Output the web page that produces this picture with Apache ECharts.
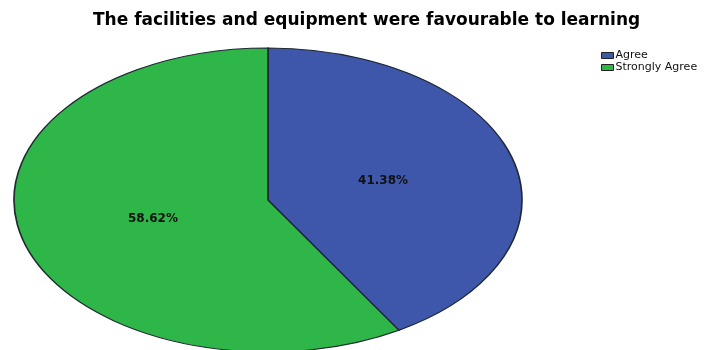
<!DOCTYPE html>
<html>
<head>
<meta charset="utf-8">
<script src="https://cdn.jsdelivr.net/npm/echarts@6/dist/echarts.min.js"></script>
<style>
html, body { margin: 0; padding: 0; background: #fff; }
#main { width: 705px; height: 350px; }
</style>
</head>
<body>
<div id="main"></div>
<script>
// data
var titleText = 'The facilities and equipment were favourable to learning';
var categories = ['Agree', 'Strongly Agree'];
var values = [41.38, 58.62];
var colors = ['#3F57AB', '#2EB648'];

var total = values.reduce(function (a, b) { return a + b; }, 0);

// the original pie is stretched sideways, so draw an ellipse
var cx = 268, cy = 200, rx = 254, ry = 152;
var labelFrac = 0.47;

function startOf(i) {
    var s = 0;
    for (var k = 0; k < i; k++) s += values[k];
    return s;
}

function renderSlice(params, api) {
    var i = params.seriesIndex;
    var v = api.value(0);
    var a0 = -Math.PI / 2 + startOf(i) / total * Math.PI * 2;
    var a1 = a0 + v / total * Math.PI * 2;
    var mid = (a0 + a1) / 2;
    return {
        type: 'group',
        children: [
            {
                type: 'group',
                x: cx,
                y: cy,
                scaleX: rx / ry,
                scaleY: 1,
                children: [{
                    type: 'sector',
                    shape: {cx: 0, cy: 0, r0: 0, r: ry, startAngle: a0, endAngle: a1, clockwise: true},
                    style: {fill: colors[i], stroke: '#1f2a33', lineWidth: 1, strokeNoScale: true}
                }]
            },
            {
                type: 'text',
                x: cx + Math.cos(mid) * rx * labelFrac,
                y: cy + Math.sin(mid) * ry * labelFrac,
                style: {
                    text: v.toFixed(2) + '%',
                    fill: '#111',
                    font: 'bold 12px "DejaVu Sans"',
                    align: 'center',
                    verticalAlign: 'middle'
                }
            }
        ]
    };
}

var series = categories.map(function (name, i) {
    return {
        name: name,
        type: 'custom',
        coordinateSystem: 'none',
        renderItem: renderSlice,
        itemStyle: {color: colors[i]},
        data: [[values[i]]],
        silent: true
    };
});

var myChart = echarts.init(document.getElementById('main'));
myChart.setOption({
    animation: false,
    backgroundColor: '#fff',
    title: {
        text: titleText,
        left: 88,
        top: 7,
        textStyle: {fontFamily: 'DejaVu Sans', fontWeight: 'bold', fontSize: 17, color: '#000'}
    },
    legend: {
        orient: 'vertical',
        left: 596,
        top: 45,
        itemWidth: 12,
        itemHeight: 6,
        itemGap: 1,
        icon: 'rect',
        itemStyle: {borderColor: '#222', borderWidth: 1},
        textStyle: {fontFamily: 'DejaVu Sans', fontSize: 11, lineHeight: 6, color: '#111', padding: [0, 0, 0, -3]},
        data: categories
    },
    series: series
});
</script>
</body>
</html>
